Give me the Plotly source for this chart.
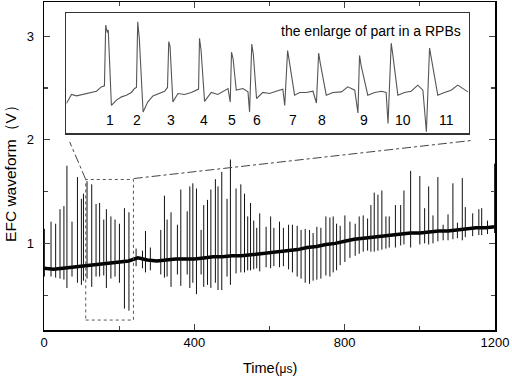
import plotly.graph_objects as go

# ---------------- data ----------------
# main waveform: slowly drifting baseline (time in us, volts)
base_t = [0, 25, 50, 75, 100, 125, 150, 175, 200, 225, 250, 275, 300, 325, 350, 375,
          400, 425, 450, 475, 500, 525, 550, 575, 600, 625, 650, 675, 700, 725, 750, 775,
          800, 825, 850, 875, 900, 925, 950, 975, 1000, 1025, 1050, 1075, 1100, 1125,
          1150, 1175, 1200]
base_v = [0.76, 0.75, 0.76, 0.77, 0.78, 0.79, 0.80, 0.81, 0.82, 0.83, 0.86, 0.84,
          0.83, 0.84, 0.85, 0.85, 0.85, 0.86, 0.87, 0.87, 0.88, 0.88, 0.89, 0.90, 0.91,
          0.92, 0.93, 0.94, 0.96, 0.97, 0.99, 1.00, 1.02, 1.04, 1.05, 1.06, 1.07, 1.08,
          1.09, 1.10, 1.10, 1.11, 1.12, 1.12, 1.13, 1.14, 1.15, 1.15, 1.16]

# main waveform: discharge spikes (time, peak value, trough value)
spike_t = [1, 18.7, 31, 42.6, 53, 61, 74.5, 89, 99.5, 105, 114.5, 127, 138.5, 148, 159,
           166, 178, 189, 200.7, 214, 226, 245, 262, 270, 283, 310.7, 320.5, 327.5, 338,
           355, 364, 381, 388, 396, 405.7, 418, 425, 435, 444, 456, 463, 473, 487, 496,
           511, 523.7, 533.5, 542, 549.5, 558, 566, 574, 591, 603, 611.6, 626.7, 637,
           650.7, 661, 673.6, 684, 695, 706.6, 716, 726, 736.7, 750, 760.7, 769.5, 778.5,
           788, 800.6, 814, 828, 838.7, 849.4, 861, 869.8, 878.7, 888.5, 899, 909.8,
           918.6, 935, 949, 957.7, 975.5, 1000, 1012.8, 1023.5, 1035, 1048, 1062, 1075,
           1088, 1100, 1113, 1121, 1140.6, 1157, 1164.6, 1180, 1199]
spike_peak = [1.14, 1.21, 1.19, 1.33, 1.36, 1.75, 1.21, 1.64, 1.43, 1.48, 1.60, 1.57, 1.38,
              1.39, 1.23, 1.33, 1.26, 1.23, 1.19, 1.34, 1.30, 0.95, 0.93, 1.12, 0.96, 1.13,
              1.46, 1.23, 1.30, 1.18, 1.52, 1.31, 1.55, 1.58, 1.53, 1.13, 1.37, 1.42, 1.52,
              1.62, 1.55, 1.69, 1.43, 1.81, 1.53, 1.57, 1.48, 1.26, 1.39, 1.22, 1.15, 1.29,
              1.16, 1.26, 1.15, 1.21, 1.15, 1.18, 1.18, 1.17, 1.13, 1.14, 1.13, 1.10, 1.16,
              1.15, 1.26, 1.25, 1.26, 1.19, 1.17, 1.27, 1.21, 1.19, 1.26, 1.27, 1.24, 1.37,
              1.49, 1.47, 1.51, 1.26, 1.26, 1.37, 1.37, 1.51, 1.70, 1.65, 1.34, 1.55, 1.27,
              1.64, 1.18, 1.28, 1.58, 1.20, 1.63, 1.35, 1.29, 1.33, 1.34, 1.22, 1.77]
spike_trough = [0.68, 0.68, 0.67, 0.66, 0.65, 0.57, 0.68, 0.62, 0.60, 0.64, 0.66, 0.58, 0.68,
                0.68, 0.69, 0.57, 0.66, 0.68, 0.62, 0.37, 0.35, 0.78, 0.76, 0.72, 0.74, 0.70,
                0.67, 0.68, 0.58, 0.70, 0.59, 0.70, 0.57, 0.62, 0.51, 0.70, 0.58, 0.60, 0.57,
                0.62, 0.55, 0.55, 0.68, 0.60, 0.71, 0.72, 0.72, 0.74, 0.74, 0.75, 0.76, 0.73,
                0.77, 0.76, 0.78, 0.77, 0.78, 0.75, 0.72, 0.68, 0.66, 0.62, 0.61, 0.64, 0.65,
                0.66, 0.69, 0.68, 0.72, 0.74, 0.79, 0.82, 0.86, 0.88, 0.90, 0.92, 0.93, 0.92,
                0.92, 0.93, 0.94, 0.95, 0.96, 0.96, 0.98, 0.99, 0.96, 0.99, 1.00, 0.99, 1.00,
                1.02, 1.03, 1.03, 1.04, 1.05, 1.03, 1.06, 1.07, 1.08, 1.08, 1.09, 1.10]

# inset: enlarged part of the record (time in us, volts)
inset_t = [111.0, 112.6, 114.2, 116.2, 118.4, 120.5, 122.0, 123.0, 123.4, 123.9, 124.2, 125.2,
           126.8, 128.4, 129.9, 131.5, 132.5, 133.1, 133.5, 134.0, 135.2, 136.7, 138.3, 140.4,
           142.0, 142.9, 143.3, 143.7, 144.6, 146.2, 148.3, 150.4, 152.0, 152.7, 153.0, 153.5,
           154.6, 156.7, 158.8, 160.9, 162.0, 162.7, 163.1, 163.6, 164.6, 166.7, 168.3, 168.8,
           169.5, 170.0, 171.0, 173.0, 175.1, 177.2, 179.3, 179.9, 180.8, 181.3, 183.0, 184.6,
           186.7, 188.8, 189.9, 190.6, 191.1, 193.0, 195.1, 197.8, 199.8, 202.0, 203.0, 203.5,
           204.0, 206.1, 208.3, 210.4, 211.9, 212.5, 213.5, 214.0, 215.6, 217.7, 219.8, 221.9,
           223.5, 224.6, 225.6, 226.1, 228.2, 230.3, 232.4, 234.5, 236.1, 237.7]
inset_v = [0.654, 0.764, 0.747, 0.764, 0.789, 0.804, 0.857, 0.87, 1.61, 1.52, 1.55, 0.63,
           0.695, 0.735, 0.756, 0.789, 0.837, 0.85, 1.65, 1.45, 0.55, 0.674, 0.747, 0.776,
           0.804, 0.85, 1.41, 1.35, 0.674, 0.776, 0.764, 0.789, 0.817, 0.83, 1.45, 1.30,
           0.68, 0.789, 0.764, 0.817, 0.837, 0.67, 1.28, 1.20, 0.817, 0.837, 0.796, 0.55,
           1.38, 1.25, 0.715, 0.789, 0.776, 0.804, 0.829, 0.63, 1.30, 1.18, 0.756, 0.789,
           0.789, 0.804, 0.66, 1.27, 1.15, 0.756, 0.789, 0.796, 0.857, 0.817, 0.54, 1.24,
           1.12, 0.756, 0.789, 0.804, 0.789, 0.41, 1.39, 1.25, 0.756, 0.789, 0.804, 0.878,
           0.817, 0.31, 1.33, 1.22, 0.756, 0.789, 0.817, 0.878, 0.837, 0.796]

inset_labels = ["1", "2", "3", "4", "5", "6", "7", "8", "9", "10", "11"]

assert len(spike_t) == len(spike_peak) == len(spike_trough)
assert len(inset_t) == len(inset_v)
assert len(base_t) == len(base_v)

FONT = "Liberation Sans, Arial, sans-serif"

# ---------------- figure ----------------
fig = go.Figure()

fig.add_trace(go.Scatter(x=base_t, y=base_v, mode="lines",
                         line=dict(color="black", width=3.5), hoverinfo="skip",
                         showlegend=False))

sx, sy = [], []
for t, p, q in zip(spike_t, spike_peak, spike_trough):
    sx += [t, t, None]
    sy += [q, p, None]
fig.add_trace(go.Scatter(x=sx, y=sy, mode="lines",
                         line=dict(color="#111111", width=1), hoverinfo="skip",
                         showlegend=False))

fig.add_trace(go.Scatter(x=inset_t, y=inset_v, mode="lines", xaxis="x2", yaxis="y2",
                         line=dict(color="#555555", width=1.1), hoverinfo="skip",
                         showlegend=False))

# inset number labels, placed under each spike
label_x = [124.7, 133.4, 143.9, 154.3, 163.4, 171.3, 182.4, 191.8, 204.8, 217.1, 230.9]
annotations = []
for lx, txt in zip(label_x, inset_labels):
    annotations.append(dict(x=lx, y=0.45, xref="x2", yref="y2", text=txt,
                            showarrow=False, font=dict(family=FONT, size=14, color="black")))
annotations.append(dict(x=0.985, y=0.852, xref="x2 domain", yref="y2 domain",
                        text="the enlarge of part in a RPBs", showarrow=False,
                        xanchor="right", yanchor="middle",
                        font=dict(family=FONT, size=14, color="black")))
# axis titles
annotations.append(dict(x=0.5, y=-0.116, xref="paper", yref="paper",
                        text="Time(<span style='font-size:12px'>μs</span>)",
                        showarrow=False, xanchor="center", yanchor="middle",
                        font=dict(family=FONT, size=14.5, color="black")))
annotations.append(dict(x=-0.074, y=0.49, xref="paper", yref="paper",
                        text="EFC waveform（V）", textangle=-90,
                        showarrow=False, xanchor="center", yanchor="middle",
                        font=dict(family=FONT, size=15.5, color="black")))

shapes = [
    dict(type="rect", xref="x", yref="y", x0=111, x1=238, y0=0.26, y1=1.617,
         line=dict(color="#555555", width=1, dash="dot")),
    dict(type="line", xref="x", yref="y", x0=111, y0=1.617, x1=68.4, y1=1.979,
         line=dict(color="#444444", width=1, dash="dashdot")),
    dict(type="line", xref="x", yref="y", x0=238.8, y0=1.626, x1=1142, y1=1.995,
         line=dict(color="#444444", width=1, dash="dashdot")),
]

fig.update_layout(
    width=512, height=378,
    margin=dict(l=44, r=17, t=2, b=48),
    paper_bgcolor="white", plot_bgcolor="white",
    font=dict(family=FONT, size=13, color="black"),
    xaxis=dict(range=[0, 1200], tickvals=[0, 400, 800, 1200], ticks="inside", ticklen=6,
               tickwidth=1.2, mirror="ticks", showline=True, linecolor="black",
               linewidth=1.5, showgrid=False, zeroline=False, automargin=False,
               minor=dict(ticks="inside", ticklen=4, tickvals=[200, 600, 1000],
                          showgrid=False),
               tickfont=dict(family=FONT, size=13)),
    yaxis=dict(range=[0.164, 3.33], tickvals=[1, 2, 3], ticks="inside", ticklen=6,
               tickwidth=1.2, mirror="ticks", showline=True, linecolor="black",
               linewidth=1.5, showgrid=False, zeroline=False, automargin=False,
               ticklabelstandoff=6,
               minor=dict(ticks="inside", ticklen=4, tickvals=[0.5, 1.5, 2.5],
                          showgrid=False),
               tickfont=dict(family=FONT, size=13)),
    xaxis2=dict(domain=[0.0497, 0.942], anchor="y2", range=[111, 238], showline=True,
                mirror=True, linecolor="#333333", linewidth=1.5, showticklabels=False,
                ticks="", showgrid=False, zeroline=False),
    yaxis2=dict(domain=[0.600, 0.965], anchor="x2", range=[0.292, 1.752], showline=True,
                mirror=True, linecolor="#333333", linewidth=1.5, showticklabels=False,
                ticks="", showgrid=False, zeroline=False),
    annotations=annotations,
    shapes=shapes,
)

fig.write_html("out.html", config={"displayModeBar": False, "staticPlot": True},
               post_script="document.body.style.margin='0';document.body.style.overflow='hidden';")
